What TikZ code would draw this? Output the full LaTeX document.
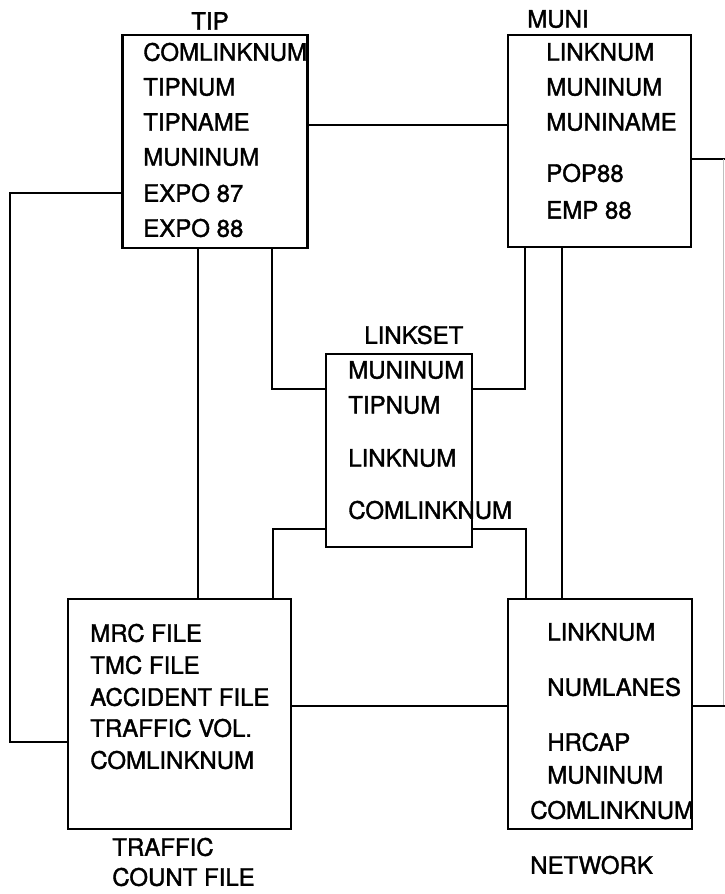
\documentclass[tikz,border=0pt]{standalone}
\usepackage{fontspec}
\setmainfont{TeX Gyre Heros}[FakeBold=1.5]
\usetikzlibrary{positioning}

\begin{document}
\begin{tikzpicture}[x=1pt,y=-1pt,line width=2.6pt,font=\fontsize{24}{28}\selectfont,
  table/.style={draw,line width=2.6pt,inner sep=0pt},
  field/.style={anchor=west,inner sep=0pt},
  title/.style={anchor=west,inner sep=0pt}]
\useasboundingbox (0,0) rectangle (725,894);
% the five tables
\node[table,minimum width=185pt,minimum height=213pt] (tip) at (215,141.5) {};
\node[table,minimum width=183pt,minimum height=212pt] (muni) at (599.5,141) {};
\node[table,minimum width=146pt,minimum height=193pt] (linkset) at (399,450.5) {};
\node[table,minimum width=223pt,minimum height=230pt] (traffic) at (179.5,714) {};
\node[table,minimum width=184pt,minimum height=230pt] (network) at (600,714) {};
% table names
\node[anchor=center,inner sep=0pt] (tipname) at (210,21) {TIP};
\node[title] (muniname) at (526,19) {MUNI};
\node[title] (linksetname) at (363,335) {LINKSET};
\node[title] (trafficname) at (111,847) {TRAFFIC};
\node[title] (trafficname2) at (111,877) {COUNT FILE};
\node[title] (networkname) at (529,865) {NETWORK};
% fields
\foreach \t/\y [count=\n] in {COMLINKNUM/52,TIPNUM/87,TIPNAME/122,MUNINUM/157,EXPO 87/193,EXPO 88/228}
  \node[field] (tip-\n) at (142,\y) {\t};
\foreach \t/\y [count=\n] in {LINKNUM/52,MUNINUM/87,MUNINAME/122,POP88/173,EMP 88/210}
  \node[field] (muni-\n) at (545,\y) {\t};
\foreach \t/\y [count=\n] in {MUNINUM/370,TIPNUM/405,LINKNUM/458,COMLINKNUM/510}
  \node[field] (linkset-\n) at (347,\y) {\t};
\foreach \t/\y [count=\n] in {MRC FILE/633,TMC FILE/665,ACCIDENT FILE/697,TRAFFIC VOL./728,COMLINKNUM/760}
  \node[field] (traffic-\n) at (89,\y) {\t};
\foreach \t/\y [count=\n] in {LINKNUM/632,NUMLANES/687,HRCAP/742,MUNINUM/775}
  \node[field] (network-\n) at (546,\y) {\t};
\node[field] (network-5) at (529,810) {COMLINKNUM};
% relations
\coordinate (rt) at (723.5,159);
\coordinate (rb) at (723.5,706);
\draw (tip.east |- 0,125) -- (muni.west |- 0,125);
\draw (muni.east |- 0,159) -- (725,159);
\draw[black!25,line width=1pt] (rt) -- (rb);
\draw (network.east |- 0,706) -- (725,706);
\draw (tip.west |- 0,193) -- (10,193) -- (10,742) -- (traffic.west |- 0,742);
\draw (tip.south -| 198,0) -- (traffic.north -| 198,0);
\draw (tip.south -| 272,0) |- (linkset.west |- 0,389);
\draw (muni.south -| 525,0) |- (linkset.east |- 0,389);
\draw (muni.south -| 562,0) -- (network.north -| 562,0);
\draw (linkset.west |- 0,529) -| (traffic.north -| 273,0);
\draw (linkset.east |- 0,529) -| (network.north -| 526,0);
\draw (traffic.east |- 0,706) -- (network.west |- 0,706);
\end{tikzpicture}
\end{document}
